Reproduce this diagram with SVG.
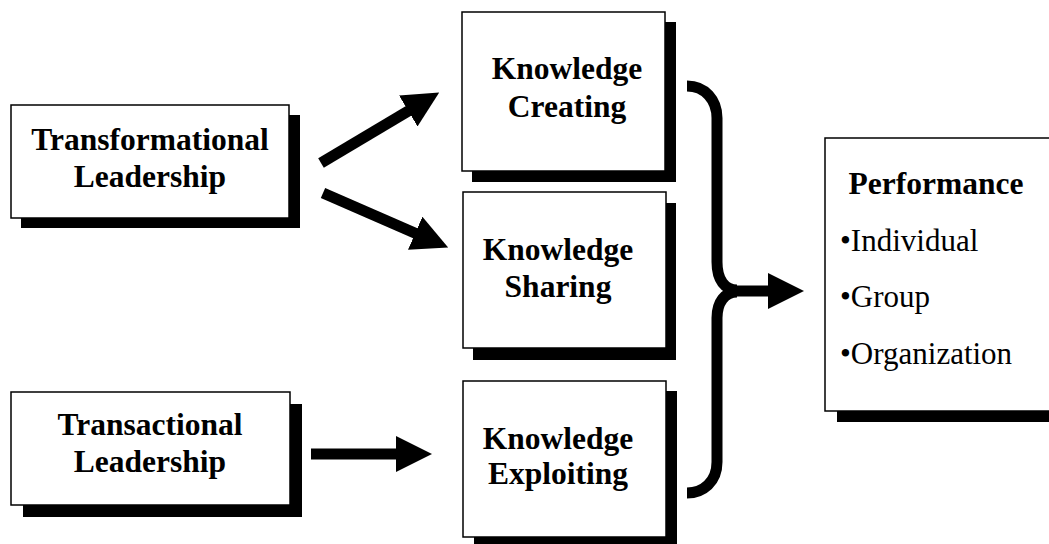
<svg xmlns="http://www.w3.org/2000/svg" width="1049" height="544" viewBox="0 0 1049 544">
<style>
.box{fill:#fff;stroke:#000;stroke-width:1.5}
.sh{fill:#000}
.t{font-family:"Liberation Serif","Times New Roman",serif;font-weight:bold;font-size:31.5px;fill:#000;text-anchor:middle}
.r{font-family:"Liberation Serif","Times New Roman",serif;font-size:31px;fill:#000}
.ln{stroke:#000;stroke-width:11;fill:none}
</style>
<defs>
<marker id="ah" viewBox="0 0 36 36" markerWidth="36" markerHeight="36" refX="2" refY="18" orient="auto" markerUnits="userSpaceOnUse">
<path d="M0,0 L36,18 L0,36 z" fill="#000"/>
</marker>
</defs>
<rect width="1049" height="544" fill="#fff"/>
<g id="transformational">
<rect class="sh" x="21" y="115" width="279" height="113"/>
<rect class="box" x="11" y="105" width="278" height="113"/>
<text class="t" x="150" y="150">Transformational</text>
<text class="t" x="150" y="187">Leadership</text>
</g>
<g id="transactional">
<rect class="sh" x="23" y="404" width="279" height="113"/>
<rect class="box" x="11" y="392" width="279" height="113"/>
<text class="t" x="150" y="435">Transactional</text>
<text class="t" x="150" y="472">Leadership</text>
</g>
<g id="creating">
<rect class="sh" x="472" y="22" width="204" height="160"/>
<rect class="box" x="462" y="12" width="203" height="159"/>
<text class="t" x="567" y="79">Knowledge</text>
<text class="t" x="567" y="117">Creating</text>
</g>
<g id="sharing">
<rect class="sh" x="473" y="203" width="203" height="157"/>
<rect class="box" x="463" y="192" width="203" height="156"/>
<text class="t" x="558" y="260">Knowledge</text>
<text class="t" x="558" y="297">Sharing</text>
</g>
<g id="exploiting">
<rect class="sh" x="474" y="391" width="203" height="160"/>
<rect class="box" x="463" y="381" width="203" height="156"/>
<text class="t" x="558" y="449">Knowledge</text>
<text class="t" x="558" y="484">Exploiting</text>
</g>
<g id="performance">
<rect class="sh" x="837" y="150" width="220" height="272"/>
<rect class="box" x="825" y="138" width="226" height="273"/>
<text class="t" x="936" y="194">Performance</text>
<text class="r" x="840" y="251">•Individual</text>
<text class="r" x="840" y="307">•Group</text>
<text class="r" x="840" y="364">•Organization</text>
</g>
<g id="connectors">
<line class="ln" x1="321" y1="163" x2="410" y2="110" marker-end="url(#ah)"/>
<line class="ln" x1="323" y1="193" x2="417" y2="234" marker-end="url(#ah)"/>
<line class="ln" x1="311" y1="454" x2="398" y2="454" marker-end="url(#ah)"/>
<path class="ln" stroke-width="10" d="M687,86 C705,86 717,100 717,118 L717,262 C717,280 725,290 737,290"/>
<path class="ln" stroke-width="10" d="M737,292 C725,292 717,302 717,318 L717,462 C717,482 703,493 687,493"/>
<line class="ln" x1="733" y1="291" x2="770" y2="291" marker-end="url(#ah)"/>
</g>
</svg>
